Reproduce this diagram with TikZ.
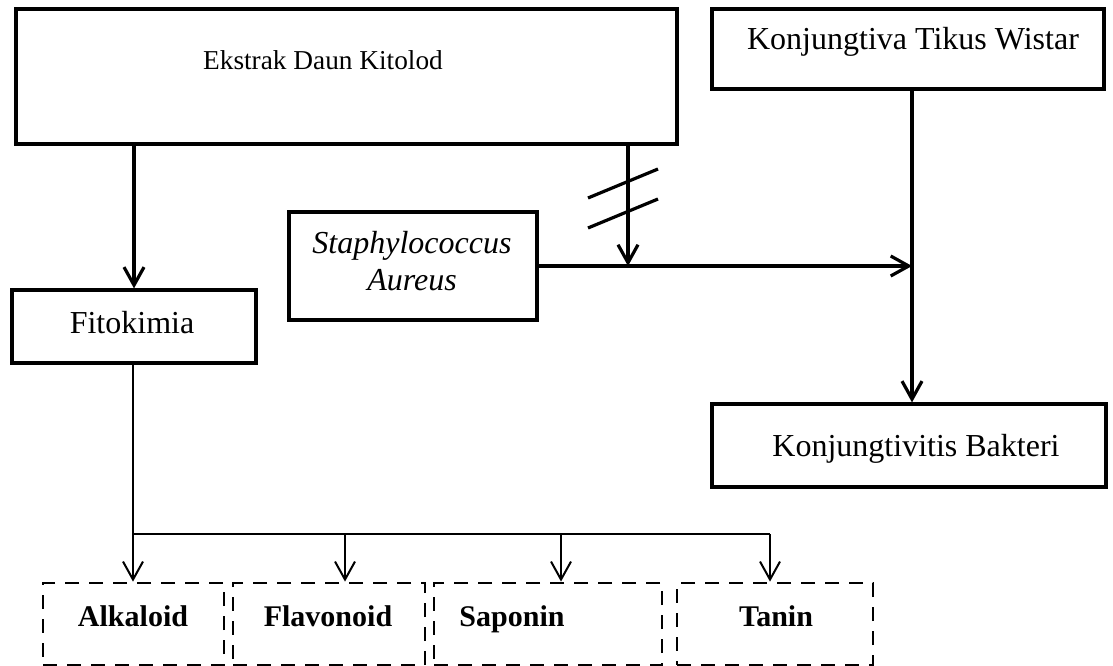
\documentclass[tikz,border=0pt]{standalone}
\usepackage{fontspec}
\setmainfont{Liberation Serif}
\usetikzlibrary{arrows.meta}
\begin{document}
\begin{tikzpicture}[x=1pt,y=-1pt,
  box/.style={draw, line width=3.2pt, inner sep=0pt},
  dbox/.style={draw, line width=2.8pt, dash pattern=on 14pt off 10pt, inner sep=0pt},
  txt/.style={font=\fontsize{32}{38}\selectfont, inner sep=0pt, anchor=base},
  smalltxt/.style={font=\fontsize{27.3}{33}\selectfont, inner sep=0pt, anchor=base},
  btxt/.style={font=\fontsize{30}{36}\selectfont\bfseries, inner sep=0pt, anchor=base},
  thickarrow/.style={line width=3.2pt, -{Straight Barb[length=18pt,width=20pt]}},
  thinarrow/.style={line width=2pt, -{Straight Barb[length=18pt,width=20pt]}},
]
\useasboundingbox (0,0) rectangle (1113,666);

% main boxes
\node[box, minimum width=661pt, minimum height=135pt] (ek) at (346.5,76.5) {};
\node[smalltxt] (ekt) at (323,70) {Ekstrak Daun Kitolod};
\node[box, minimum width=392pt, minimum height=80pt] (kt) at (908,49) {};
\node[txt] (ktt) at (913,50) {Konjungtiva Tikus Wistar};
\node[box, minimum width=248pt, minimum height=108pt] (st) at (413,266) {};
\node[txt, font=\fontsize{32}{38}\selectfont\itshape] (st1) at (412,253) {Staphylococcus};
\node[txt, font=\fontsize{32}{38}\selectfont\itshape] (st2) at (412,290) {Aureus};
\node[box, minimum width=244pt, minimum height=73pt] (fi) at (134,326.5) {};
\node[txt] (fit) at (132,333) {Fitokimia};
\node[box, minimum width=394pt, minimum height=83pt] (kb) at (909,445.5) {};
\node[txt] (kbt) at (916,456) {Konjungtivitis Bakteri};

% dashed boxes
\node[dbox, minimum width=181pt, minimum height=82pt] (alk) at (133.5,624) {};
\node[dbox, minimum width=192pt, minimum height=82pt] (fla) at (329,624) {};
\node[dbox, minimum width=228pt, minimum height=82pt] (sap) at (548,624) {};
\node[dbox, minimum width=196pt, minimum height=82pt] (tan) at (775,624) {};
\node[btxt] (alkt) at (133,626) {Alkaloid};
\node[btxt] (flat) at (328,626) {Flavonoid};
\node[btxt] (sapt) at (512,626) {Saponin};
\node[btxt] (tant) at (776,626) {Tanin};

% coordinates
\coordinate (m) at (628,266);
\coordinate (c) at (912,266);
\coordinate (b1) at (133,534);
\coordinate (b2) at (345,534);
\coordinate (b3) at (561,534);
\coordinate (b4) at (770,534);

% thick connectors
\draw[thickarrow] (ek.south -| fi.north) -- (fi.north);
\draw[thickarrow] (ek.south -| m) -- (m);
\draw[line width=3.2pt] (588,198) -- (658,169);
\draw[line width=3.2pt] (588,228) -- (658,199);
\draw[thickarrow] (st.east) -- (c);
\draw[thickarrow] (kt.south -| c) -- (kb.north -| c);

% thin bus
\draw[line width=2pt] (fi.south -| b1) -- (b1) -- (b4);
\draw[thinarrow] (b1) -- (b1 |- alk.north);
\draw[thinarrow] (b2) -- (b2 |- fla.north);
\draw[thinarrow] (b3) -- (b3 |- sap.north);
\draw[thinarrow] (b4) -- (b4 |- tan.north);
\end{tikzpicture}
\end{document}
